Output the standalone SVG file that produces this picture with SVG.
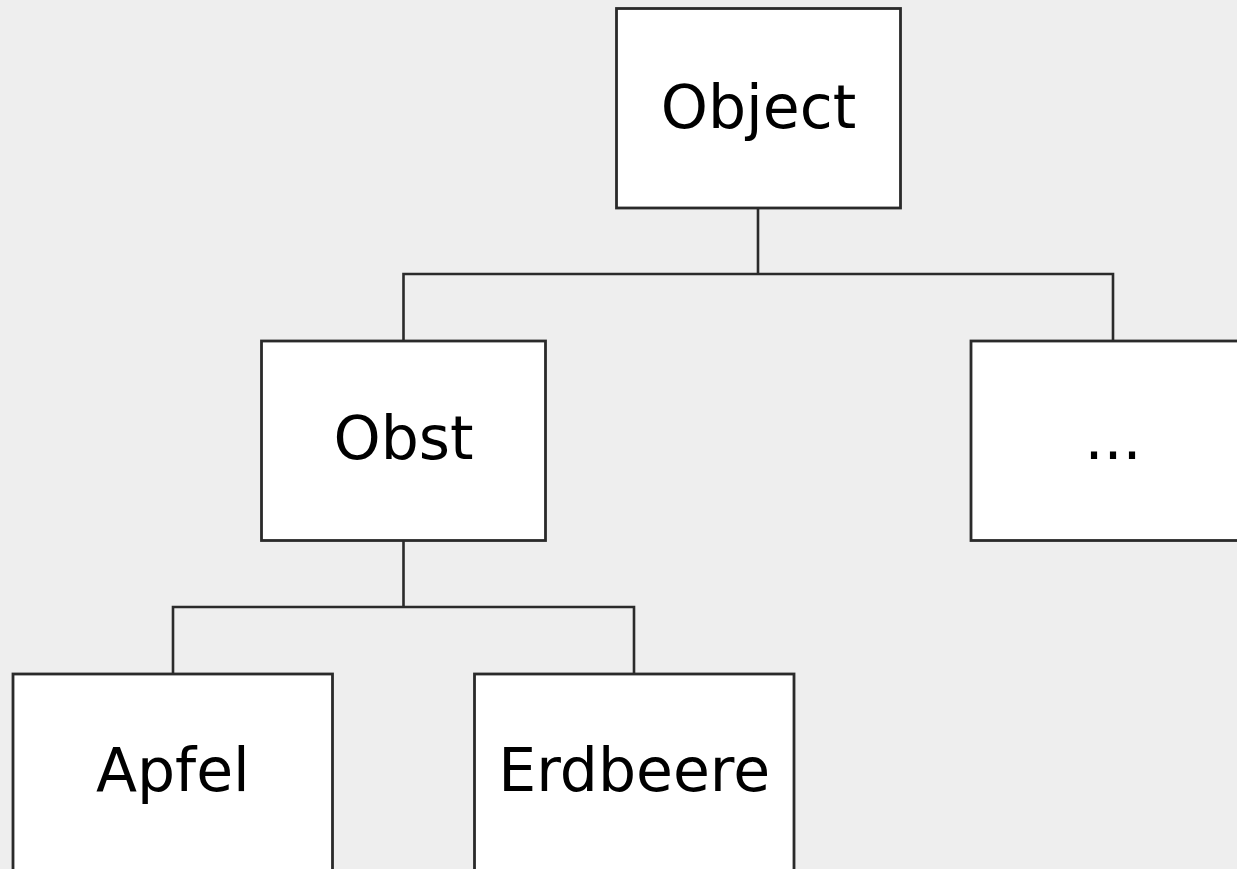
<svg xmlns="http://www.w3.org/2000/svg" width="1237" height="869" viewBox="0 0 1237 869">
<style>
.box{fill:#ffffff;stroke:#2a2a2a;stroke-width:2.8}
.lbl{font-family:"DejaVu Sans",Verdana,sans-serif;font-size:60px;fill:#000;text-anchor:middle}
.con{fill:none;stroke:#2a2a2a;stroke-width:2.6}
</style>
<rect x="0" y="0" width="1237" height="869" fill="#eeeeee"/>
<g id="connectors">
<path class="con" d="M758 208V274M403.5 341V274H1113V341"/>
<path class="con" d="M403.5 540V607M173 674V607H634V674"/>
</g>
<g id="object"><rect class="box" x="616.5" y="8.5" width="284" height="199.5"/><text class="lbl" x="758.5" y="127.5">Object</text></g>
<g id="obst"><rect class="box" x="261.5" y="341" width="284" height="199.5"/><text class="lbl" x="403.5" y="458.5">Obst</text></g>
<g id="more"><rect class="box" x="971" y="341" width="284" height="199.5"/><text class="lbl" x="1113" y="458.5">...</text></g>
<g id="apfel"><rect class="box" x="13" y="674" width="319.5" height="210"/><text class="lbl" x="172.8" y="790.5">Apfel</text></g>
<g id="erdbeere"><rect class="box" x="474.5" y="674" width="319.5" height="210"/><text class="lbl" x="634.2" y="790.5">Erdbeere</text></g>
</svg>
